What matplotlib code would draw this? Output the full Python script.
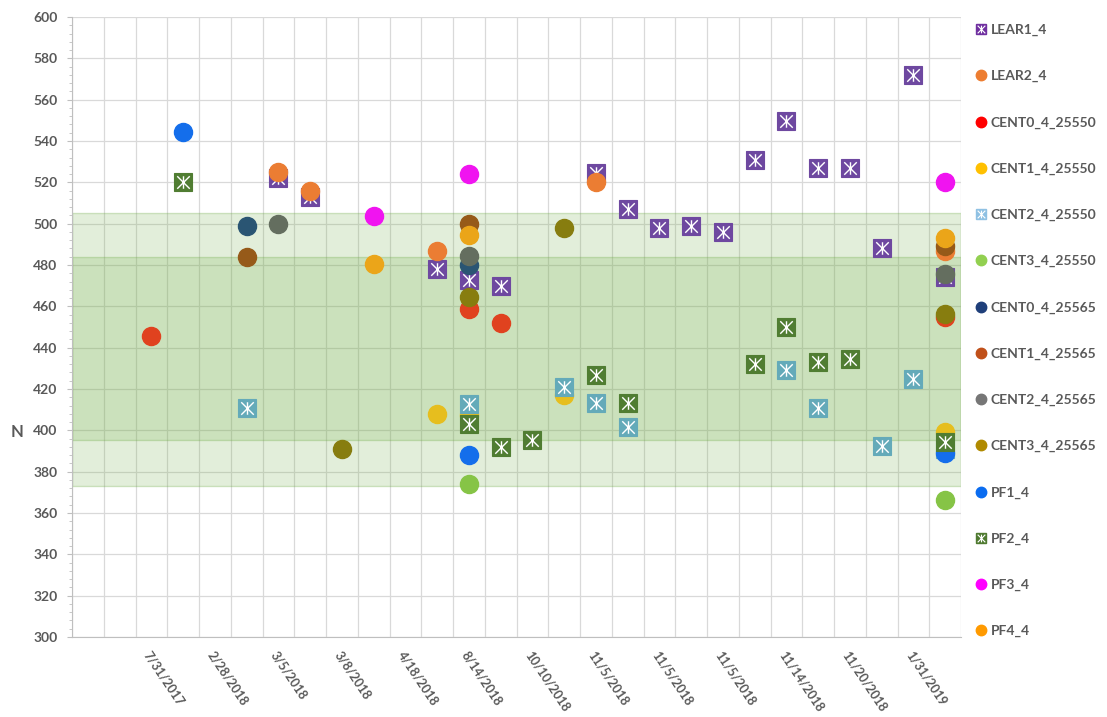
import matplotlib
matplotlib.use("Agg")
import matplotlib.pyplot as plt
from matplotlib.path import Path
from matplotlib.lines import Line2D
import numpy as np

plt.rcParams['font.family'] = ['Lato', 'DejaVu Sans']
plt.rcParams['font.weight'] = 'bold'

# Category axis: 28 sample slots, every second one labelled
n_cat = 28
tick_pos = [2, 4, 6, 8, 10, 12, 14, 16, 18, 20, 22, 24, 26]
tick_labels = ['7/31/2017', '2/28/2018', '3/5/2018', '3/8/2018', '4/18/2018',
               '8/14/2018', '10/10/2018', '11/5/2018', '11/5/2018', '11/5/2018',
               '11/14/2018', '11/20/2018', '1/31/2019']

# Control bands (outer and inner limits)
band_outer = (373.3, 505.2)
band_inner = (395.3, 483.9)

# Series data: category index and value
lear1_x = [6, 7, 11, 12, 13, 16, 17, 18, 19, 20, 21, 22, 23, 24, 25, 26, 27]
lear1_y = [522, 513, 478, 472.5, 470, 524.5, 507, 498, 499, 496, 531, 549.5, 527, 527, 488, 572, 474]
lear2_x = [6, 7, 11, 16, 27]
lear2_y = [525, 516, 487, 520, 487]
cent0_50_x = [2, 12, 13, 27]
cent0_50_y = [445.5, 458.5, 452, 455]
cent1_50_x = [11, 12, 15, 27]
cent1_50_y = [408, 407.5, 417, 399]
cent2_50_x = [5, 12, 15, 16, 17, 22, 23, 25, 26, 27]
cent2_50_y = [411, 412.5, 421, 413, 401.5, 429, 411, 392.5, 425, 391]
cent3_50_x = [12, 27]
cent3_50_y = [374, 366.5]
cent0_65_x = [5, 12]
cent0_65_y = [499, 480]
cent1_65_x = [5, 12, 27]
cent1_65_y = [484, 500, 489]
cent2_65_x = [6, 12, 27]
cent2_65_y = [500, 484.5, 475.5]
cent3_65_x = [8, 12, 15, 27]
cent3_65_y = [391, 464.5, 498, 456.5]
pf1_x = [3, 12, 27]
pf1_y = [544.5, 388, 389]
pf2_x = [3, 12, 13, 14, 16, 17, 21, 22, 23, 24, 27]
pf2_y = [520, 403, 392, 395.5, 427, 413, 432, 450, 433, 434.5, 394.5]
pf3_x = [9, 12, 27]
pf3_y = [503.5, 524, 520]
pf4_x = [9, 12, 27]
pf4_y = [480.5, 494.5, 493]

# name, x, y, boxed marker?, marker colour, legend colour
series = [
    ('LEAR1_4', lear1_x, lear1_y, True, '#6e48a0', '#7030a0'),
    ('LEAR2_4', lear2_x, lear2_y, False, '#eb7d33', '#ed7d31'),
    ('CENT0_4_25550', cent0_50_x, cent0_50_y, False, '#e0421f', '#ff0000'),
    ('CENT1_4_25550', cent1_50_x, cent1_50_y, False, '#e6be1e', '#ffc000'),
    ('CENT2_4_25550', cent2_50_x, cent2_50_y, True, '#64aab9', '#8fc1e3'),
    ('CENT3_4_25550', cent3_50_x, cent3_50_y, False, '#86c446', '#92d050'),
    ('CENT0_4_25565', cent0_65_x, cent0_65_y, False, '#2a5573', '#1f3f7a'),
    ('CENT1_4_25565', cent1_65_x, cent1_65_y, False, '#965a19', '#c0501a'),
    ('CENT2_4_25565', cent2_65_x, cent2_65_y, False, '#646e5f', '#767676'),
    ('CENT3_4_25565', cent3_65_x, cent3_65_y, False, '#877d0f', '#b08a00'),
    ('PF1_4', pf1_x, pf1_y, False, '#146eeb', '#0a6cf0'),
    ('PF2_4', pf2_x, pf2_y, True, '#507d32', '#4f7a30'),
    ('PF3_4', pf3_x, pf3_y, False, '#f014f0', '#ff00ff'),
    ('PF4_4', pf4_x, pf4_y, False, '#eba519', '#ff9a00'),
]

# white "X plus vertical bar" drawn inside the square markers
star_box = Path([(-1, -1), (1, 1), (-1, 1), (1, -1), (0, -1), (0, 1)],
                [Path.MOVETO, Path.LINETO] * 3)

fig = plt.figure(figsize=(11.07, 7.17), dpi=100)
ax = fig.add_axes([72 / 1107, 1 - 637 / 717, 889 / 1107, 620 / 717])

grey = '#595959'
grid_c = '#d9d9d9'

ax.set_xlim(-0.5, n_cat - 0.5)
ax.set_ylim(300, 600)

# gridlines
ax.set_xticks(np.arange(-0.5, n_cat, 1.0), minor=True)
ax.set_yticks(np.arange(300, 601, 20))
ax.set_yticks(np.arange(300, 601, 4), minor=True)
ax.grid(which='minor', axis='x', color=grid_c, lw=0.9, zorder=0)
ax.grid(which='major', axis='y', color=grid_c, lw=0.9, zorder=0)
ax.set_axisbelow(True)

# bands
green = (0.44, 0.68, 0.28)
for lo, hi in (band_outer, band_inner):
    ax.axhspan(lo, hi, facecolor=green + (0.2,), edgecolor=green + (0.3,), lw=1, zorder=1)

# points
handles = []
for i, (name, xs, ys, boxed, mcol, lcol) in enumerate(series):
    z = 3 + i * 0.05
    if boxed:
        ax.plot(xs, ys, ls='none', marker='s', ms=12.5, mfc=mcol, mec=mcol, mew=0.8, zorder=z)
        ax.plot(xs, ys, ls='none', marker=star_box, ms=9, mec='white', mew=1.0, zorder=z + 0.01)
        h = (Line2D([], [], ls='none', marker='s', ms=7.5, mfc=lcol, mec=lcol),
             Line2D([], [], ls='none', marker=star_box, ms=5.5, mec='white', mew=0.8))
    else:
        ax.plot(xs, ys, ls='none', marker='o', ms=13, mfc=mcol, mec=mcol, zorder=z)
        h = Line2D([], [], ls='none', marker='o', ms=7.5, mfc=lcol, mec=lcol)
    handles.append(h)

# axes styling
for s in ('top', 'right'):
    ax.spines[s].set_visible(False)
for s in ('left', 'bottom'):
    ax.spines[s].set_color('#bfbfbf')
ax.tick_params(axis='y', which='major', length=3.5, color='#bfbfbf', labelsize=10,
               labelcolor=grey, pad=7)
ax.tick_params(axis='y', which='minor', length=2.5, color='#bfbfbf')
ax.tick_params(axis='x', which='both', length=0)
ax.set_xticks(tick_pos)
ax.set_xticklabels(tick_labels, rotation=-56, ha='left', va='top',
                   rotation_mode='anchor', fontsize=9, color=grey)
ax.tick_params(axis='x', pad=9)

fig.text(17 / 1107, 1 - 432 / 717, 'N', ha='center', va='center', fontsize=12, color=grey)

fig.legend(handles, [s[0] for s in series], loc='upper left',
           bbox_to_anchor=(976 / 1107, 1 - 24 / 717), frameon=False, fontsize=10,
           labelcolor=grey, labelspacing=2.45, handlelength=0.7, handletextpad=0.35,
           borderpad=0, borderaxespad=0)

fig.savefig('out.png', dpi=100)
